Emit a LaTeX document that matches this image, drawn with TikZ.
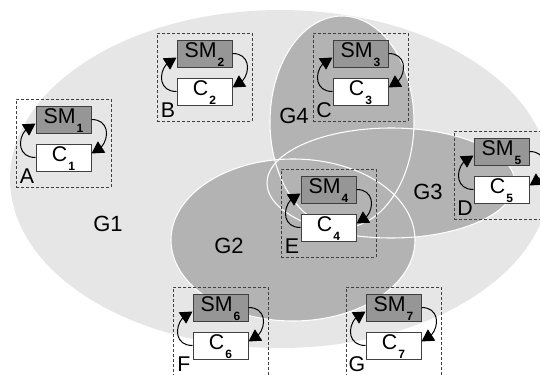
\documentclass[tikz,border=0pt]{standalone}
\usepackage{fontspec}
\setmainfont{Liberation Sans}
\usetikzlibrary{arrows.meta,bending,calc}

\definecolor{gone}{HTML}{E6E6E6}
\definecolor{gtwo}{HTML}{B3B3B3}
\definecolor{smfill}{HTML}{969696}
\definecolor{edgecol}{HTML}{404040}

\newcommand{\subdigit}[1]{\kern0.8pt\raisebox{-7pt}{\fontsize{9pt}{10pt}\selectfont\bfseries #1}}

\tikzset{
  groupbox/.style={draw=edgecol, dash pattern=on 2.25pt off 1.5pt, line width=0.75pt,
    minimum width=71.25pt, minimum height=66pt, inner sep=0pt},
  smbox/.style={draw=edgecol, fill=smfill, line width=0.75pt,
    minimum width=41.25pt, minimum height=20.25pt, inner sep=0pt},
  cbox/.style={draw=edgecol, fill=white, line width=0.75pt,
    minimum width=41.25pt, minimum height=20.25pt, inner sep=0pt},
  boxtext/.style={anchor=base, inner sep=0pt, font=\fontsize{16pt}{19pt}\selectfont},
  lbl/.style={inner sep=0pt, font=\fontsize{16.5pt}{19pt}\selectfont},
  letterlbl/.style={inner sep=0pt, font=\fontsize{16pt}{19pt}\selectfont},
  cyclearrow/.style={draw=black, line width=0.75pt, -{Triangle[length=9pt,width=10pt,flex]}},
  setoutline/.style={draw=white, line width=0.8pt},
}

\newcommand{\unitgroup}[4]{% #1 index, #2 bx, #3 by, #4 letter
  \node[groupbox] (g#1) at (#2+47.5,#3+44) {};
  \node[smbox] (sm#1) at (#2+47.5,#3+20.5) {};
  \node[cbox] (c#1) at (#2+47.5,#3+58.5) {};
  \node[boxtext] (smt#1) at ($(sm#1.center)+(0,3.5)$) {SM\subdigit{#1}};
  \node[boxtext] (ct#1) at ($(c#1.center)+(0,3.5)$) {C\subdigit{#1}};
  \node[letterlbl] (l#1) at (#2+11,#3+77) {#4};
  \draw[cyclearrow] (c#1.west) .. controls +(-22,0) and +(-18,5) .. ($(sm#1.west)+(0,4)$);
  \draw[cyclearrow] (sm#1.east) .. controls +(22,0) and +(18,-5) .. ($(c#1.east)+(0,-4)$);
}

\begin{document}
\begin{tikzpicture}[x=0.75pt, y=-0.75pt]
\useasboundingbox (0,0) rectangle (540,375);
\clip (0,0) rectangle (540,375);

% group areas
\fill[gone] (280,179) ellipse (270 and 169);
\fill[gtwo] (293,240) ellipse (122 and 81);
\fill[gtwo] (391,183) ellipse (124 and 55);
\fill[gtwo] (342,122) ellipse (72 and 106);
\draw[setoutline] (293,240) ellipse (122 and 81);
\draw[setoutline] (391,183) ellipse (124 and 55);
\draw[setoutline] (342,122) ellipse (72 and 106);

\node[lbl] (G1) at (108,224) {G1};
\node[lbl] (G2) at (229,246) {G2};
\node[lbl] (G3) at (428,192) {G3};
\node[lbl] (G4) at (294,116) {G4};

\unitgroup{1}{16}{99}{A}
\unitgroup{2}{157}{33}{B}
\unitgroup{3}{313}{33}{C}
\unitgroup{5}{454}{131}{D}
\unitgroup{4}{281}{169}{E}
\unitgroup{6}{173}{287}{F}
\unitgroup{7}{346}{287}{G}
\end{tikzpicture}
\end{document}
